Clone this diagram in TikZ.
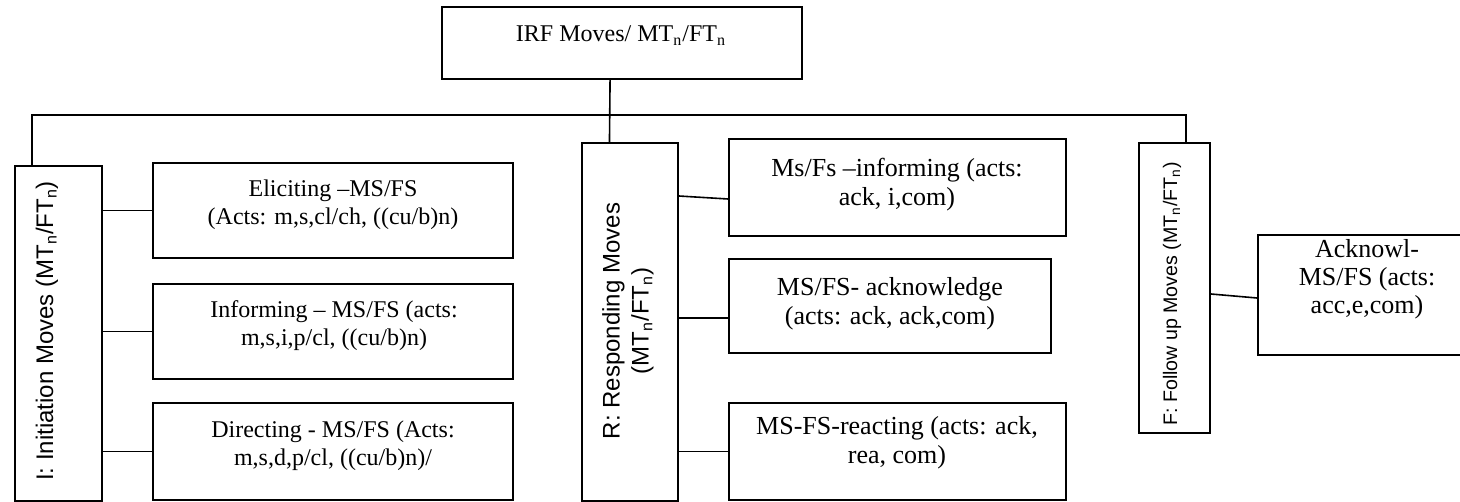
\documentclass[tikz,border=0pt]{standalone}
\usepackage{fontspec}
\setmainfont{Liberation Serif}
\newfontfamily\sansfont{Liberation Sans}
\usetikzlibrary{fit,calc}
\begin{document}
\begin{tikzpicture}[x=0.5pt,y=-0.5pt,
  box/.style={draw, line width=0.9pt, inner sep=0pt},
  link/.style={line width=0.8pt},
  txt/.style={font=\fontsize{12}{14}\selectfont, align=center, inner sep=0pt},
  bigtxt/.style={font=\fontsize{13}{14.5}\selectfont, align=center, inner sep=0pt},
  vtxt/.style={font=\sansfont\fontsize{12}{14.5}\selectfont, align=center, inner sep=0pt, rotate=90}]
\useasboundingbox (0,0) rectangle (1460,502);
\clip (0,0) rectangle (1460,502);

% boxes
\node[box, fit={(442,7) (802,79)}] (top) {};
\node[box, fit={(15,166) (102,501)}] (I) {};
\node[box, fit={(153,163) (513,258)}] (E) {};
\node[box, fit={(153,284) (513,379)}] (Inf) {};
\node[box, fit={(153,403) (513,500)}] (D) {};
\node[box, fit={(582,143) (678,501)}] (R) {};
\node[box, fit={(729,139) (1066,236)}] (R1) {};
\node[box, fit={(729,259) (1051,353)}] (R2) {};
\node[box, fit={(729,403) (1066,500)}] (R3) {};
\node[box, fit={(1139,143) (1210,433)}] (F) {};
\node[box, fit={(1258,235) (1476,355)}] (Ack) {};

% texts
\node[txt, anchor=base] (toptxt) at (621,42) {IRF Moves/ MT\textsubscript{n}/FT\textsubscript{n}};
\node[txt] (Etxt) at (333,205) {Eliciting –MS/FS\\(Acts: m,s,cl/ch, ((cu/b)n)};
\node[txt] (Inftxt) at (334,326) {Informing – MS/FS (acts:\\m,s,i,p/cl, ((cu/b)n)};
\node[txt] (Dtxt) at (333,446) {Directing - MS/FS (Acts:\\m,s,d,p/cl, ((cu/b)n)/};
\node[bigtxt] (R1txt) at (897,185) {Ms/Fs –informing (acts:\\ack, i,com)};
\node[bigtxt] (R2txt) at (890,304) {MS/FS- acknowledge\\(acts: ack, ack,com)};
\node[bigtxt] (R3txt) at (897,443) {MS-FS-reacting (acts: ack,\\rea, com)};
\node[bigtxt, font=\fontsize{13}{14}\selectfont] (Acktxt) at (1367,279) {Acknowl-\\MS/FS (acts:\\acc,e,com)};
\node[vtxt, anchor=base] (Itxt) at (53,331) {I: Initiation Moves (MT\textsubscript{n}/FT\textsubscript{n})};
\node[vtxt] (Rtxt) at (628,321) {R: Responding Moves\\(MT\textsubscript{n}/FT\textsubscript{n})};
\node[vtxt, anchor=base, font=\sansfont\fontsize{9.8}{12}\selectfont] (Ftxt) at (1177,294) {F: Follow up Moves (MT\textsubscript{n}/FT\textsubscript{n})};

% tree from the top box to the three move columns
\coordinate (bus) at (0,115);
\coordinate (stem) at ($(top.south west)!0.467!(top.south east)$);
\coordinate (Ileg) at ($(I.north west)!0.2!(I.north east)$);
\coordinate (Rleg) at ($(R.north west)!0.29!(R.north east)$);
\coordinate (Fleg) at ($(F.north west)!0.66!(F.north east)$);
\draw[link] (stem) -- (Rleg);
\draw[link] (Ileg) -- (Ileg |- bus) -- (Fleg |- bus) -- (Fleg);

% connectors to the sub-moves
\draw[link] (I.east |- E.west) -- (E.west);
\draw[link] (I.east |- Inf.west) -- (Inf.west);
\draw[link] (I.east |- D.west) -- (D.west);
\draw[link] ($(R.east |- R1.west)+(0,8.5)$) -- ($(R1.west)+(0,11.5)$);
\draw[link] ($(R.east |- R2.west)+(0,12)$) -- ($(R2.west)+(0,12)$);
\draw[link] (R.east |- R3.west) -- (R3.west);
\draw[link] ($(F.east |- Ack.west)+(0,-1)$) -- ($(Ack.west)+(0,3)$);
\end{tikzpicture}
\end{document}
